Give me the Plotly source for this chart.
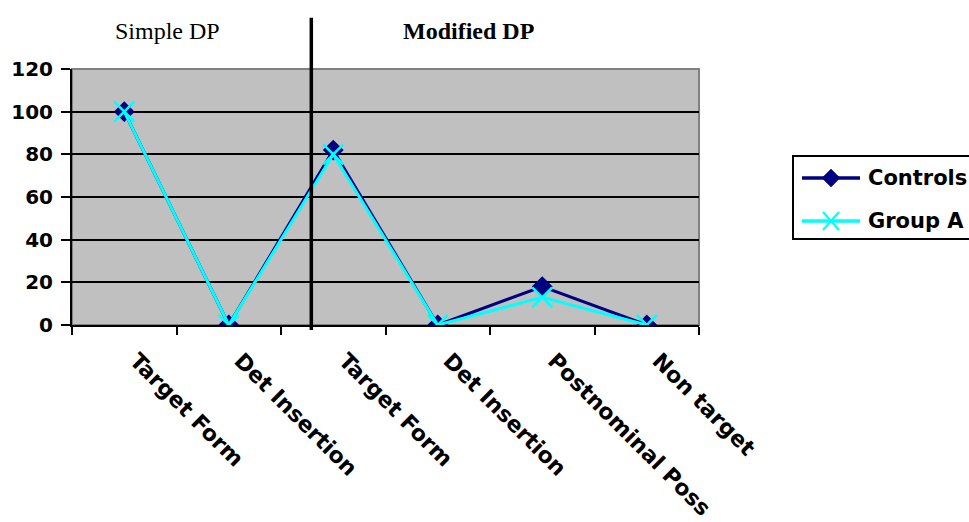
import plotly.graph_objects as go

# Categories along the x axis (two task blocks: Simple DP, Modified DP)
categories = ["Target Form", "Det Insertion", "Target Form ", "Det Insertion ",
              "Postnominal Poss", "Non target"]
controls = [100, 0, 82, 0, 18, 0]
group_a = [100, 0, 80, 0, 13, 0]
y_ticks = [0, 20, 40, 60, 80, 100, 120]
series_names = ["Controls", "Group A"]
series_colors = ["#000080", "#00FFFF"]
block_labels = ["Simple DP", "Modified DP"]
block_label_x = [0.153, 0.633]   # paper x of each block heading
divider_x = 1.79                  # category-axis position of the block divider

W, H = 969, 522
ML, MR, MT, MB = 72, 270, 69, 197
PW, PH = W - ML - MR, H - MT - MB

sans = "DejaVu Sans, Verdana, sans-serif"
serif = "Liberation Serif, Times New Roman, serif"


def px_to_paper(px, py):
    return (px - ML) / PW, (H - MB - py) / PH


fig = go.Figure()
fig.add_trace(go.Scatter(
    x=categories, y=controls, name=series_names[0], mode="lines+markers",
    line=dict(color=series_colors[0], width=3),
    marker=dict(symbol="diamond", size=16, color=series_colors[0]),
    showlegend=False,
))
fig.add_trace(go.Scatter(
    x=categories, y=group_a, name=series_names[1], mode="lines+markers",
    line=dict(color=series_colors[1], width=3),
    marker=dict(symbol="x-thin", size=20, color=series_colors[1],
                line=dict(color=series_colors[1], width=2.5)),
    showlegend=False,
))

shapes = []
# grey plot area with a grey border
shapes.append(dict(type="rect", xref="paper", yref="paper", x0=0, x1=1, y0=0, y1=1,
                   fillcolor="#C0C0C0", line=dict(color="#808080", width=2),
                   layer="below"))
# thick vertical divider between the two blocks
shapes.append(dict(type="line", xref="x", yref="paper", x0=divider_x, x1=divider_x,
                   y0=-0.02, y1=1.2, line=dict(color="black", width=3.5)))

# legend box, drawn by hand so the sample lines are long
bx0, by0 = px_to_paper(793, 156)
bx1, by1 = px_to_paper(1000, 239)
shapes.append(dict(type="rect", xref="paper", yref="paper", x0=bx0, x1=bx1,
                   y0=by1, y1=by0, fillcolor="white",
                   line=dict(color="black", width=2)))
row_y = [178, 221]
for i, (name, col) in enumerate(zip(series_names, series_colors)):
    lx0, ly = px_to_paper(802, row_y[i])
    lx1, _ = px_to_paper(860, row_y[i])
    mx, _ = px_to_paper(831, row_y[i])
    shapes.append(dict(type="line", xref="paper", yref="paper", x0=lx0, x1=lx1,
                       y0=ly, y1=ly, line=dict(color=col, width=3.5)))
    if i == 0:
        shapes.append(dict(type="path", xref="paper", yref="paper",
                           xsizemode="pixel", ysizemode="pixel",
                           xanchor=mx, yanchor=ly,
                           path="M -9 0 L 0 9 L 9 0 L 0 -9 Z",
                           fillcolor=col, line=dict(color=col, width=0.5)))
    else:
        shapes.append(dict(type="path", xref="paper", yref="paper",
                           xsizemode="pixel", ysizemode="pixel",
                           xanchor=mx, yanchor=ly,
                           path="M -8 -9 L 8 9 M -8 9 L 8 -9",
                           line=dict(color=col, width=2.2)))
    tx, ty = px_to_paper(866, row_y[i])
    fig.add_annotation(text=f"<b>{name}</b>", xref="paper", yref="paper",
                       x=tx, y=ty, xanchor="left", yanchor="middle",
                       showarrow=False,
                       font=dict(family=sans, size=21, color="black"))

for txt, xp in zip(block_labels, block_label_x):
    fig.add_annotation(text=txt, xref="paper", yref="paper", x=xp, y=1.148,
                       showarrow=False, xanchor="center", yanchor="middle",
                       font=dict(family=serif, size=24, color="black",
                                 weight="bold" if txt == "Modified DP" else "normal"))

fig.update_layout(
    width=W, height=H,
    margin=dict(l=ML, r=MR, t=MT, b=MB, autoexpand=False),
    paper_bgcolor="white", plot_bgcolor="rgba(0,0,0,0)",
    showlegend=False,
    shapes=shapes,
)
fig.update_xaxes(
    type="category", categoryorder="array", categoryarray=categories,
    range=[-0.5, 5.5], showgrid=False, tickson="boundaries",
    ticks="outside", ticklen=8, tickcolor="black", tickwidth=1.5,
    showline=True, linecolor="black", linewidth=2,
    tickangle=45, tickfont=dict(family=sans, size=22, color="black", weight="bold"),
    ticklabelshift=12, ticklabelstandoff=12, automargin=False,
    zeroline=False, fixedrange=True,
)
fig.update_yaxes(
    range=[0, 120], tickvals=y_ticks, showgrid=True, gridcolor="black",
    gridwidth=1.5, ticks="outside", ticklen=9, tickcolor="black", tickwidth=1.5,
    showline=True, linecolor="black", linewidth=2, zeroline=False,
    tickfont=dict(family=sans, size=20, color="black", weight="bold"),
    ticklabelstandoff=4, automargin=False, fixedrange=True,
)

fig.write_html("out.html")
